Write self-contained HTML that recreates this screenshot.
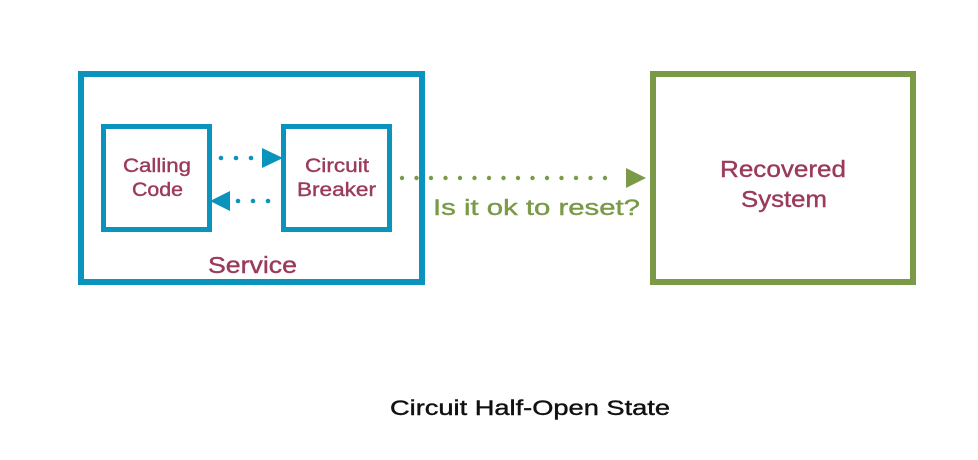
<!DOCTYPE html>
<html><head><style>
html,body{margin:0;padding:0;background:#fff;width:978px;height:460px;overflow:hidden}
svg text{font-family:"Liberation Sans",sans-serif;font-weight:normal}
</style></head><body>
<svg width="978" height="460" viewBox="0 0 978 460" xmlns="http://www.w3.org/2000/svg">
<rect x="81" y="74" width="341" height="208" fill="none" stroke="#0a94bd" stroke-width="6"/>
<rect x="103.5" y="126.5" width="106" height="103" fill="none" stroke="#0a94bd" stroke-width="5"/>
<rect x="283.5" y="126.5" width="106" height="103" fill="none" stroke="#0a94bd" stroke-width="5"/>
<rect x="653" y="74" width="260" height="208" fill="none" stroke="#7a9a48" stroke-width="6"/>
<g fill="#0a94bd">
<circle cx="221" cy="158" r="2.3"/><circle cx="236" cy="158" r="2.3"/><circle cx="251" cy="158" r="2.3"/>
<polygon points="262,148 283,158 262,168"/>
<circle cx="238" cy="201" r="2.3"/><circle cx="253" cy="201" r="2.3"/><circle cx="268" cy="201" r="2.3"/>
<polygon points="230,191 210,201 230,211"/>
</g>
<g fill="#7a9a48">
<circle cx="402" cy="178" r="2.2"/><circle cx="416.5" cy="178" r="2.2"/><circle cx="431" cy="178" r="2.2"/><circle cx="445.5" cy="178" r="2.2"/><circle cx="460" cy="178" r="2.2"/><circle cx="474.5" cy="178" r="2.2"/><circle cx="489" cy="178" r="2.2"/><circle cx="503.5" cy="178" r="2.2"/><circle cx="518" cy="178" r="2.2"/><circle cx="532.5" cy="178" r="2.2"/><circle cx="547" cy="178" r="2.2"/><circle cx="561.5" cy="178" r="2.2"/><circle cx="576" cy="178" r="2.2"/><circle cx="590.5" cy="178" r="2.2"/><circle cx="605" cy="178" r="2.2"/>
<polygon points="626,168 646,178 626,188"/>
</g>
<g fill="#9b3b5a" stroke="#9b3b5a" stroke-width="0.4">
<text x="123" y="172" font-size="19" textLength="68" lengthAdjust="spacingAndGlyphs">Calling</text>
<text x="132" y="196" font-size="19" textLength="51" lengthAdjust="spacingAndGlyphs">Code</text>
<text x="305" y="172" font-size="19" textLength="64" lengthAdjust="spacingAndGlyphs">Circuit</text>
<text x="297" y="196" font-size="19" textLength="79" lengthAdjust="spacingAndGlyphs">Breaker</text>
<text x="208" y="273" font-size="23" textLength="89" lengthAdjust="spacingAndGlyphs">Service</text>
<text x="720" y="177" font-size="23" textLength="126" lengthAdjust="spacingAndGlyphs">Recovered</text>
<text x="741" y="207" font-size="23" textLength="86" lengthAdjust="spacingAndGlyphs">System</text>
</g>
<text x="433" y="215" font-size="22" fill="#7a9a48" stroke="#7a9a48" stroke-width="0.4" textLength="207" lengthAdjust="spacingAndGlyphs">Is it ok to reset?</text>
<text x="390" y="415" font-size="21" fill="#111" stroke="#111" stroke-width="0.4" textLength="280" lengthAdjust="spacingAndGlyphs">Circuit Half-Open State</text>
</svg>
</body></html>
